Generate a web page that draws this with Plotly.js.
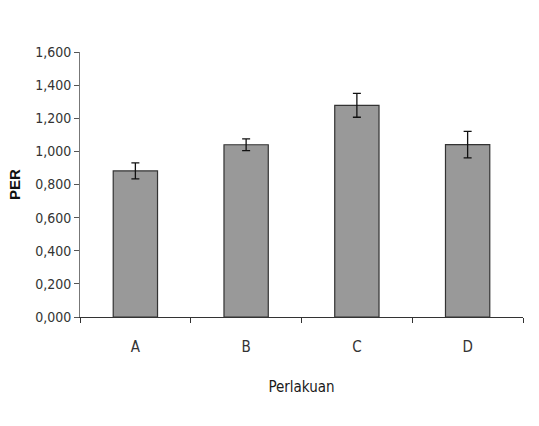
<!DOCTYPE html>
<html>
<head>
<meta charset="utf-8">
<script src="https://cdn.plot.ly/plotly-3.0.1.min.js"></script>
<style>html,body{margin:0;padding:0;background:#fff;}#chart{width:539px;height:426px;}</style>
</head>
<body>
<div id="chart"></div>
<script>
const categories = ["A", "B", "C", "D"];
const perValues = [0.882, 1.040, 1.278, 1.041];
const perErrors = [0.048, 0.035, 0.072, 0.080];
const yTickValues = [0, 0.2, 0.4, 0.6, 0.8, 1.0, 1.2, 1.4, 1.6];

const fontFam = '"DejaVu Sans Condensed", "Liberation Sans Narrow", "Liberation Sans", Arial, sans-serif';

Plotly.newPlot('chart', [{
  type: 'bar',
  x: categories,
  y: perValues,
  width: 0.4,
  marker: {color: '#999999', line: {color: '#333333', width: 1.2}},
  error_y: {type: 'data', array: perErrors, visible: true, color: '#111111', thickness: 1.3, width: 4}
}], {
  width: 539, height: 426,
  margin: {l: 80, r: 16, t: 52, b: 109},
  paper_bgcolor: '#ffffff', plot_bgcolor: '#ffffff',
  separators: ',.',
  showlegend: false,
  font: {family: fontFam, size: 13, color: '#333333'},
  xaxis: {
    type: 'category',
    tickson: 'boundaries',
    ticks: 'outside', ticklen: 5, tickcolor: '#333',
    ticklabelstandoff: 16,
    showline: true, linecolor: '#333', linewidth: 1,
    showgrid: false, zeroline: false,
    tickfont: {family: fontFam, size: 15, color: '#333'},
    title: {text: 'Perlakuan', font: {family: fontFam, size: 15, color: '#1a1a1a'}, standoff: 26}
  },
  yaxis: {
    range: [0, 1.6],
    tickvals: yTickValues,
    tickformat: ',.3f',
    ticks: 'outside', ticklen: 5, tickcolor: '#555',
    showline: true, linecolor: '#777', linewidth: 1,
    showgrid: false, zeroline: false,
    tickfont: {family: fontFam, size: 14, color: '#333'},
    title: {text: '<b>PER</b>', font: {family: '"Liberation Sans", Arial, sans-serif', size: 15, color: '#111'}, standoff: 10}
  }
}, {staticPlot: true});
</script>
</body>
</html>
